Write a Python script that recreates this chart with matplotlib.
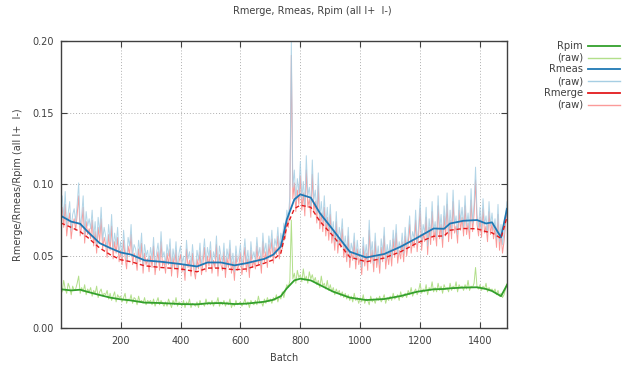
import numpy as np
import matplotlib
matplotlib.use("Agg")
import matplotlib.pyplot as plt
from matplotlib.lines import Line2D
from matplotlib.ticker import FormatStrFormatter

# raw values, one per 5 batches (units of 1e-3), 10 values per row = 50 batches
raw_batch = np.arange(0, 1500, 5)
rmeas_raw = [84, 92, 76, 95, 71, 80, 88, 68, 79, 83,
             74, 86, 101, 70, 78, 92, 65, 81, 71, 76,
             69, 82, 63, 74, 58, 77, 66, 84, 61, 70,
             64, 55, 72, 60, 79, 54, 66, 58, 70, 52,
             60, 49, 68, 55, 47, 63, 57, 72, 50, 58,
             55, 46, 61, 52, 66, 44, 58, 50, 54, 45,
             56, 48, 63, 43, 52, 59, 46, 67, 49, 53,
             44, 58, 50, 62, 42, 55, 47, 60, 41, 52,
             57, 45, 50, 39, 61, 48, 53, 42, 58, 46,
             40, 54, 47, 59, 43, 51, 62, 45, 56, 49,
             60, 44, 53, 48, 64, 42, 57, 50, 46, 59,
             41, 55, 48, 61, 44, 52, 39, 57, 46, 50,
             58, 43, 51, 62, 45, 54, 41, 60, 48, 53,
             47, 63, 50, 56, 44, 66, 52, 59, 48, 64,
             55, 68, 51, 62, 57, 70, 54, 66, 61, 73,
             68, 82, 76, 92, 200, 98, 110, 88, 104, 94,
             116, 90, 102, 85, 120, 92, 98, 84, 117, 89,
             96, 80, 108, 76, 88, 74, 92, 71, 84, 68,
             86, 65, 74, 60, 81, 58, 70, 62, 76, 55,
             64, 52, 70, 48, 59, 53, 66, 47, 61, 50,
             55, 42, 63, 49, 58, 46, 75, 51, 60, 45,
             66, 48, 57, 44, 62, 52, 70, 47, 58, 50,
             61, 49, 68, 55, 72, 51, 60, 54, 66, 52,
             70, 56, 64, 78, 58, 67, 62, 82, 59, 71,
             90, 60, 72, 66, 84, 57, 76, 64, 88, 67,
             74, 63, 92, 68, 79, 62, 85, 70, 94, 66,
             82, 68, 96, 72, 78, 65, 89, 74, 84, 70,
             92, 71, 80, 68, 97, 73, 86, 112, 79, 70,
             84, 69, 90, 72, 78, 66, 88, 71, 80, 68,
             76, 62, 86, 60, 72, 58, 66, 79, 88, 84]
rmerge_raw = [77, 84, 70, 86, 64, 74, 80, 62, 72, 76,
              68, 79, 92, 64, 71, 84, 59, 74, 65, 69,
              62, 75, 57, 67, 52, 70, 60, 76, 55, 63,
              58, 49, 65, 54, 71, 48, 60, 52, 63, 46,
              54, 44, 61, 49, 41, 57, 51, 65, 44, 52,
              49, 40, 55, 46, 59, 38, 52, 44, 48, 39,
              50, 42, 57, 37, 46, 53, 40, 60, 43, 47,
              38, 52, 44, 55, 36, 49, 41, 54, 35, 46,
              51, 39, 44, 33, 55, 42, 47, 36, 52, 40,
              34, 48, 41, 53, 37, 45, 56, 39, 50, 43,
              54, 38, 47, 42, 58, 36, 51, 44, 40, 53,
              35, 49, 42, 55, 38, 46, 33, 51, 40, 44,
              52, 37, 45, 56, 39, 48, 35, 54, 42, 47,
              41, 57, 44, 50, 38, 60, 46, 53, 42, 58,
              49, 62, 45, 56, 51, 64, 48, 60, 55, 67,
              62, 75, 70, 85, 190, 90, 101, 81, 96, 86,
              106, 82, 94, 78, 110, 84, 90, 77, 107, 81,
              88, 73, 99, 69, 80, 67, 84, 64, 77, 61,
              79, 59, 67, 54, 74, 52, 63, 56, 69, 49,
              58, 46, 64, 42, 53, 47, 60, 41, 55, 44,
              49, 37, 57, 43, 52, 40, 68, 45, 54, 39,
              60, 42, 51, 38, 56, 46, 64, 41, 52, 44,
              55, 43, 62, 49, 66, 45, 54, 48, 60, 46,
              64, 50, 58, 72, 52, 61, 56, 75, 53, 65,
              83, 54, 66, 60, 77, 51, 70, 58, 81, 61,
              68, 57, 85, 62, 72, 56, 78, 64, 86, 60,
              75, 62, 88, 66, 71, 59, 82, 68, 77, 64,
              85, 65, 73, 62, 89, 67, 79, 103, 72, 64,
              77, 63, 83, 66, 71, 60, 81, 65, 73, 62,
              70, 56, 79, 54, 66, 52, 60, 72, 81, 77]
rpim_raw = [30, 25, 33, 27, 24, 31, 28, 23, 29, 26,
            27, 31, 36, 24, 28, 25, 30, 23, 27, 25,
            28, 22, 26, 24, 29, 21, 25, 27, 22, 24,
            23, 26, 20, 24, 19, 22, 25, 18, 23, 21,
            22, 18, 21, 24, 17, 20, 19, 23, 17, 21,
            20, 16, 22, 18, 19, 17, 21, 16, 19, 18,
            19, 16, 20, 15, 18, 21, 16, 19, 17, 15,
            18, 15, 20, 17, 14, 19, 16, 21, 15, 18,
            17, 15, 19, 14, 18, 16, 20, 14, 17, 16,
            15, 18, 14, 19, 16, 17, 15, 20, 16, 18,
            16, 19, 15, 18, 17, 21, 15, 18, 16, 19,
            15, 18, 16, 20, 14, 17, 15, 19, 16, 17,
            18, 15, 17, 20, 16, 18, 14, 19, 17, 16,
            19, 16, 22, 17, 18, 15, 20, 17, 21, 18,
            20, 17, 21, 19, 23, 18, 22, 20, 25, 21,
            26, 30, 28, 33, 75, 34, 38, 31, 40, 35,
            37, 32, 41, 33, 36, 31, 39, 34, 37, 32,
            35, 30, 33, 28, 36, 29, 31, 27, 33, 26,
            30, 25, 28, 23, 27, 24, 26, 22, 25, 21,
            24, 20, 23, 19, 22, 18, 24, 19, 21, 17,
            21, 18, 23, 17, 20, 19, 16, 22, 18, 20,
            17, 21, 19, 22, 18, 20, 23, 17, 21, 19,
            22, 19, 24, 20, 21, 23, 19, 25, 21, 22,
            24, 21, 26, 23, 28, 22, 25, 27, 23, 26,
            31, 24, 27, 25, 30, 23, 28, 26, 32, 25,
            28, 25, 31, 26, 29, 24, 30, 27, 28, 25,
            31, 26, 29, 27, 32, 25, 30, 28, 29, 26,
            30, 27, 33, 26, 29, 28, 31, 42, 28, 27,
            30, 26, 29, 27, 31, 25, 28, 26, 27, 25,
            27, 23, 26, 22, 24, 21, 23, 27, 31, 30]

# smoothed curves
smooth_batch = [1, 35, 65, 90, 130, 165, 200, 235, 280, 335, 400, 455, 490,
                535, 580, 620, 680, 710, 735, 755, 780, 800, 835, 865, 910,
                965, 1020, 1080, 1135, 1190, 1245, 1280, 1300, 1345, 1390,
                1420, 1440, 1470, 1490]
rmeas = [0.078, 0.074, 0.0725, 0.067, 0.059, 0.0556, 0.0525, 0.051, 0.047,
         0.046, 0.0444, 0.0427, 0.0455, 0.0455, 0.0435, 0.045, 0.048, 0.051,
         0.0567, 0.0755, 0.0895, 0.093, 0.0907, 0.080, 0.068, 0.053, 0.049,
         0.0514, 0.0565, 0.0627, 0.0692, 0.069, 0.0727, 0.0746, 0.0751,
         0.0727, 0.0735, 0.063, 0.083]
rmerge = [0.073, 0.070, 0.067, 0.063, 0.0556, 0.051, 0.0474, 0.046, 0.0432,
          0.042, 0.041, 0.039, 0.0416, 0.0416, 0.0404, 0.041, 0.045, 0.0474,
          0.052, 0.0708, 0.083, 0.0855, 0.084, 0.0743, 0.0638, 0.0493, 0.046,
          0.0486, 0.053, 0.0591, 0.0638, 0.064, 0.068, 0.0692, 0.069, 0.067,
          0.0662, 0.0623, 0.0774]
rpim = [0.0268, 0.026, 0.0265, 0.025, 0.0228, 0.021, 0.0198, 0.019, 0.0175,
        0.0172, 0.0165, 0.0163, 0.017, 0.0172, 0.0165, 0.0168, 0.0181, 0.0195,
        0.022, 0.0275, 0.033, 0.0342, 0.033, 0.0298, 0.0251, 0.021, 0.0193,
        0.020, 0.0221, 0.0251, 0.0268, 0.027, 0.0275, 0.028, 0.0282, 0.027,
        0.0256, 0.022, 0.0298]

labels = ["Rpim", "(raw)", "Rmeas", "(raw)", "Rmerge", "(raw)"]
colors = ["#33a02c", "#b2df8a", "#1f78b4", "#a6cee3", "#e31a1c", "#fb9a99"]

txt = "#404040"
plt.rcParams["font.family"] = "DejaVu Sans"
plt.rcParams["font.size"] = 7

fig = plt.figure(figsize=(6.25, 3.69), dpi=100)
ax = fig.add_axes([61 / 625, 41.3 / 369, 446 / 625, 286.7 / 369])

# raw data (thin, light) then smoothed curves on top
ax.plot(raw_batch, np.array(rpim_raw) / 1000, color=colors[1], lw=0.7)
ax.plot(raw_batch, np.array(rmerge_raw) / 1000, color=colors[5], lw=0.7)
ax.plot(raw_batch, np.array(rmeas_raw) / 1000, color=colors[3], lw=0.7, alpha=0.85)
ax.plot(smooth_batch, rpim, color=colors[0], lw=1.3)
ax.plot(smooth_batch, rmeas, color=colors[2], lw=1.3)
ax.plot(smooth_batch, rmerge, color=colors[4], lw=1.0, ls=(0, (3, 2)))

ax.set_xlim(1, 1490)
ax.set_ylim(0, 0.20)
ax.set_xticks([200, 400, 600, 800, 1000, 1200, 1400])
ax.set_yticks([0.0, 0.05, 0.10, 0.15, 0.20])
ax.yaxis.set_major_formatter(FormatStrFormatter("%.2f"))
ax.tick_params(direction="in", length=4, top=True, right=True,
               colors=txt, labelcolor=txt, labelsize=7)
ax.tick_params(axis="x", pad=6)
ax.tick_params(axis="y", pad=5)
ax.grid(True, color="#b0b0b0", ls=(0, (1, 2)), lw=0.7)
for s in ax.spines.values():
    s.set_color(txt)
    s.set_linewidth(1)

fig.text(312 / 625, 1 - 10.5 / 369, "Rmerge, Rmeas, Rpim (all I+  I-)",
         ha="center", va="center", color=txt, fontsize=7)
fig.text(284 / 625, 1 - 358 / 369, "Batch", ha="center", va="center",
         color=txt, fontsize=7)
fig.text(18 / 625, 1 - 184.5 / 369, "Rmerge/Rmeas/Rpim (all I+  I-)",
         rotation=90, ha="center", va="center", color=txt, fontsize=7)

# key on the right
for i, (lab, c) in enumerate(zip(labels, colors)):
    y = 1 - (45.7 + i * 11.85) / 369
    fig.text(583 / 625, y, lab, ha="right", va="center", color=txt, fontsize=7.2)
    fig.add_artist(Line2D([588 / 625, 620 / 625], [y, y], color=c,
                          lw=1.3 if i % 2 == 0 else 1.0,
                          transform=fig.transFigure))

fig.savefig("out.png", dpi=100)
